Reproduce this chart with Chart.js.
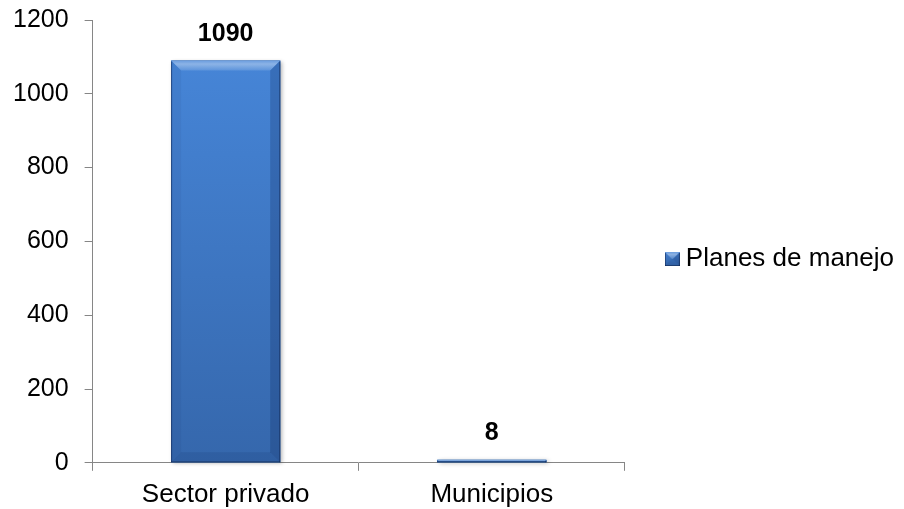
<!DOCTYPE html>
<html>
<head>
<meta charset="utf-8">
<script src="https://cdn.jsdelivr.net/npm/chart.js@4.4.1/dist/chart.umd.min.js"></script>
<style>
  html, body { margin: 0; padding: 0; background: #fff; }
  #wrap { width: 904px; height: 509px; }
</style>
</head>
<body>
<div id="wrap"><canvas id="myChart"></canvas></div>
<script>
const categories = ['Sector privado', 'Municipios'];
const seriesName = 'Planes de manejo';
const values = [1090, 8];
const yMin = 0;
const yMax = 1200;
const yStep = 200;

const FONT = '"Liberation Sans", Arial, sans-serif';
const AXIS_GRAY = '#868686';

// draws a beveled (Excel "3D") box into any rect
function bevelBox(ctx, l, t, r, b, d) {
  const h = b - t;
  const w = r - l;
  d = Math.max(0, Math.min(d, h / 2, w / 2));
  const g = ctx.createLinearGradient(0, t, 0, b);
  g.addColorStop(0, '#4685D7');
  g.addColorStop(1, '#3567AC');
  ctx.fillStyle = g;
  ctx.fillRect(l, t, w, h);
  if (d <= 0) return;
  const poly = (pts, color) => {
    ctx.beginPath();
    ctx.moveTo(pts[0][0], pts[0][1]);
    pts.slice(1).forEach(p => ctx.lineTo(p[0], p[1]));
    ctx.closePath();
    ctx.fillStyle = color;
    ctx.fill();
  };
  const top = ctx.createLinearGradient(0, t, 0, t + d);
  top.addColorStop(0, 'rgba(255,255,255,0.20)');
  top.addColorStop(0.35, 'rgba(255,255,255,0.38)');
  top.addColorStop(1, 'rgba(255,255,255,0.12)');
  poly([[l, t], [r, t], [r - d, t + d], [l + d, t + d]], top);
  poly([[l, t], [l + d, t + d], [l + d, b - d], [l, b]], 'rgba(10,30,80,0.06)');
  poly([[r, t], [r, b], [r - d, b - d], [r - d, t + d]], 'rgba(10,30,80,0.22)');
  poly([[l, b], [l + d, b - d], [r - d, b - d], [r, b]], 'rgba(10,30,80,0.12)');
  // thin dark rim on the sides and bottom
  ctx.fillStyle = 'rgba(15,35,75,0.55)';
  ctx.fillRect(l, t + 1, 1, h - 1);
  ctx.fillRect(r - 1, t + 1, 1, h - 1);
  ctx.fillRect(l, b - 1, w, 1);
}

const legendIcon = document.createElement('canvas');
legendIcon.width = 15;
legendIcon.height = 14;
bevelBox(legendIcon.getContext('2d'), 0, 0, 15, 14, 7);

const bevelBars = {
  id: 'bevelBars',
  afterDatasetsDraw(chart) {
    const ctx = chart.ctx;
    chart.getDatasetMeta(0).data.forEach(bar => {
      const l = bar.x - bar.width / 2;
      const r = bar.x + bar.width / 2;
      ctx.save();
      ctx.shadowColor = 'rgba(0,0,0,0.3)';
      ctx.shadowBlur = 4;
      ctx.shadowOffsetX = 2;
      ctx.shadowOffsetY = 1;
      ctx.fillStyle = '#3A6DB2';
      ctx.fillRect(l, bar.y, r - l, bar.base - bar.y);
      ctx.restore();
      ctx.save();
      bevelBox(ctx, l, bar.y, r, bar.base, 10);
      ctx.restore();
    });
  }
};

const valueLabels = {
  id: 'valueLabels',
  afterDatasetsDraw(chart) {
    const ctx = chart.ctx;
    chart.getDatasetMeta(0).data.forEach((bar, i) => {
      ctx.save();
      ctx.font = 'bold 25px ' + FONT;
      ctx.fillStyle = '#000';
      ctx.textAlign = 'center';
      ctx.textBaseline = 'alphabetic';
      ctx.fillText(String(values[i]), bar.x, bar.y - 20);
      ctx.restore();
    });
  }
};

new Chart(document.getElementById('myChart'), {
  type: 'bar',
  data: {
    labels: categories,
    datasets: [{
      label: seriesName,
      data: values,
      backgroundColor: '#4A7EBB',
      borderWidth: 0,
      categoryPercentage: 1,
      barPercentage: 0.41
    }]
  },
  options: {
    responsive: true,
    maintainAspectRatio: false,
    animation: false,
    layout: { padding: { left: -3, right: 0, top: 0, bottom: -9 } },
    plugins: {
      tooltip: { enabled: false },
      legend: {
        position: 'right',
        maxWidth: 320,
        labels: {
          color: '#000',
          font: { family: FONT, size: 26 },
          usePointStyle: true,
          pointStyleWidth: 1,
          padding: 47,
          generateLabels: chart =>
            Chart.defaults.plugins.legend.labels.generateLabels(chart)
              .map(item => ({ ...item, pointStyle: legendIcon }))
        }
      }
    },
    scales: {
      x: {
        grid: { display: true, drawOnChartArea: false, drawTicks: true, tickLength: 8, color: AXIS_GRAY, offset: true },
        border: { color: AXIS_GRAY, width: 1 },
        ticks: { color: '#000', font: { family: FONT, size: 26 }, padding: 8, maxRotation: 0 }
      },
      y: {
        min: yMin,
        max: yMax,
        grid: { display: true, drawOnChartArea: false, drawTicks: true, tickLength: 8, color: AXIS_GRAY },
        border: { color: AXIS_GRAY, width: 1 },
        ticks: { stepSize: yStep, color: '#000', font: { family: FONT, size: 25 }, padding: 16, callback: v => String(v) },
        afterFit: scale => { scale.paddingTop = 20; }
      }
    }
  },
  plugins: [bevelBars, valueLabels]
});
</script>
</body>
</html>
